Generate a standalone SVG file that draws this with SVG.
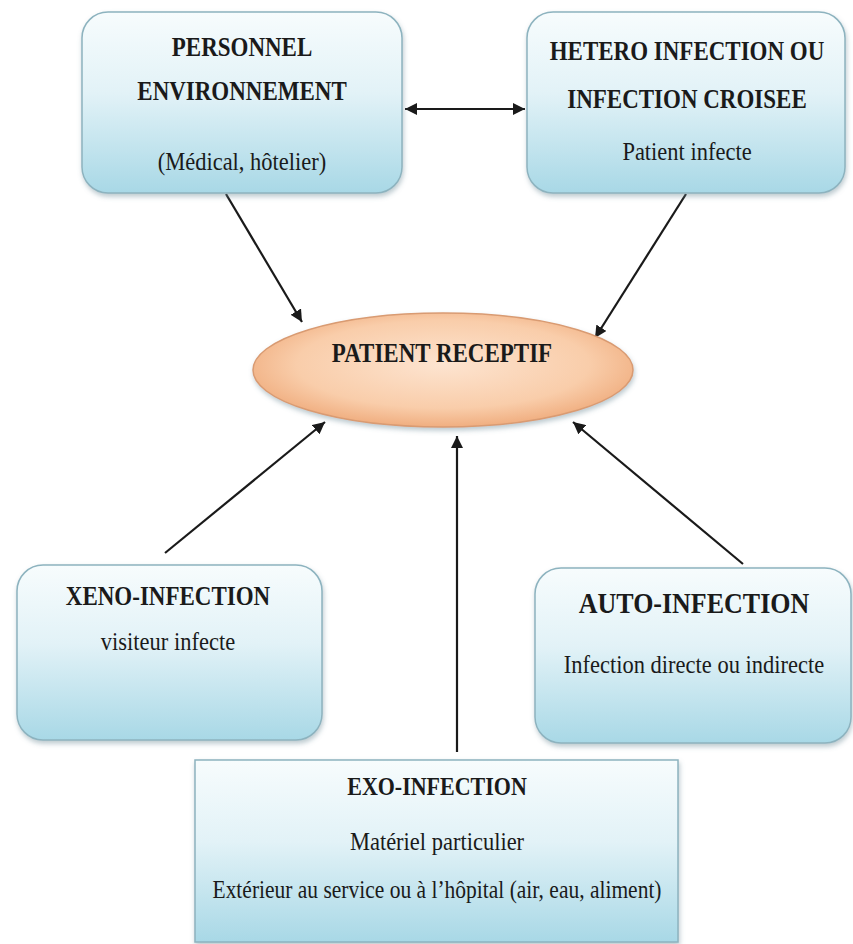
<svg xmlns="http://www.w3.org/2000/svg" width="853" height="944" viewBox="0 0 853 944">
<style>
.box{fill:url(#blue);stroke:#8db3bf;stroke-width:1.5;filter:url(#sh)}
.t{font-family:"Liberation Serif","Times New Roman",serif;fill:#1a1a1a;text-anchor:middle}
.b{font-weight:bold;font-size:23px}
.r{font-size:22.5px}
.c{stroke:#1a1a1a;stroke-width:2.2;fill:none}
</style>
<defs>
<linearGradient id="blue" x1="0" y1="0" x2="0" y2="1">
<stop offset="0" stop-color="#f7fcfd"/>
<stop offset="0.45" stop-color="#e2f2f7"/>
<stop offset="1" stop-color="#a8d8e6"/>
</linearGradient>
<radialGradient id="peach" cx="0.5" cy="0.45" r="0.55">
<stop offset="0" stop-color="#fde4d0"/>
<stop offset="0.7" stop-color="#f9cdaa"/>
<stop offset="1" stop-color="#f0ae80"/>
</radialGradient>
<filter id="sh" x="-10%" y="-10%" width="120%" height="125%">
<feDropShadow dx="1" dy="3" stdDeviation="2.5" flood-color="#6a8a95" flood-opacity="0.45"/>
</filter>
<marker id="ah" viewBox="0 0 10 10" refX="10" refY="5" markerWidth="5.5" markerHeight="5.5" orient="auto-start-reverse" markerUnits="strokeWidth">
<path d="M0,0 L10,5 L0,10 z" fill="#1a1a1a"/>
</marker>
</defs>
<rect width="853" height="944" fill="#ffffff"/>
<g id="connectors">
<line class="c" x1="405" y1="109" x2="525" y2="109" marker-start="url(#ah)" marker-end="url(#ah)"/>
<line class="c" x1="226" y1="194" x2="302" y2="322" marker-end="url(#ah)"/>
<line class="c" x1="686" y1="194" x2="595" y2="338" marker-end="url(#ah)"/>
<line class="c" x1="165" y1="553" x2="325" y2="422" marker-end="url(#ah)"/>
<line class="c" x1="457" y1="752" x2="457" y2="436" marker-end="url(#ah)"/>
<line class="c" x1="743" y1="564" x2="573" y2="422" marker-end="url(#ah)"/>
</g>
<g id="personnel">
<rect class="box" x="82" y="12" width="320" height="181" rx="26"/>
<text class="t b" transform="translate(242 56) scale(1 1.15)">PERSONNEL</text>
<text class="t b" transform="translate(242 100) scale(1 1.15)">ENVIRONNEMENT</text>
<text class="t r" transform="translate(242 170) scale(1 1.15)">(Médical, hôtelier)</text>
</g>
<g id="hetero">
<rect class="box" x="527" y="12" width="318" height="181" rx="26"/>
<text class="t b" transform="translate(687 60) scale(1 1.15)">HETERO INFECTION OU</text>
<text class="t b" transform="translate(687 108) scale(1 1.15)">INFECTION CROISEE</text>
<text class="t r" transform="translate(687 160) scale(1 1.15)">Patient infecte</text>
</g>
<g id="patient">
<ellipse cx="443" cy="370" rx="190" ry="57" fill="url(#peach)" stroke="#d99b72" stroke-width="1.5" filter="url(#sh)"/>
<text class="t b" transform="translate(442 362) scale(1 1.15)">PATIENT RECEPTIF</text>
</g>
<g id="xeno">
<rect class="box" x="17" y="565" width="305" height="175" rx="26"/>
<text class="t b" transform="translate(168 605) scale(1 1.15)">XENO-INFECTION</text>
<text class="t r" transform="translate(168 650) scale(1 1.15)">visiteur infecte</text>
</g>
<g id="auto">
<rect class="box" x="535" y="568" width="316" height="175" rx="26"/>
<text class="t b" transform="translate(694 613) scale(1 1.15)" style="font-size:26px">AUTO-INFECTION</text>
<text class="t r" transform="translate(694 673) scale(1 1.15)">Infection directe ou indirecte</text>
</g>
<g id="exo">
<rect class="box" x="195" y="760" width="483" height="182"/>
<text class="t b" transform="translate(437 795) scale(1 1.15)" style="font-size:22px">EXO-INFECTION</text>
<text class="t r" transform="translate(437 850) scale(1 1.15)">Matériel particulier</text>
<text class="t r" transform="translate(437 898) scale(1 1.15)" style="font-size:21.5px">Extérieur au service ou à l’hôpital (air, eau, aliment)</text>
</g>
</svg>
